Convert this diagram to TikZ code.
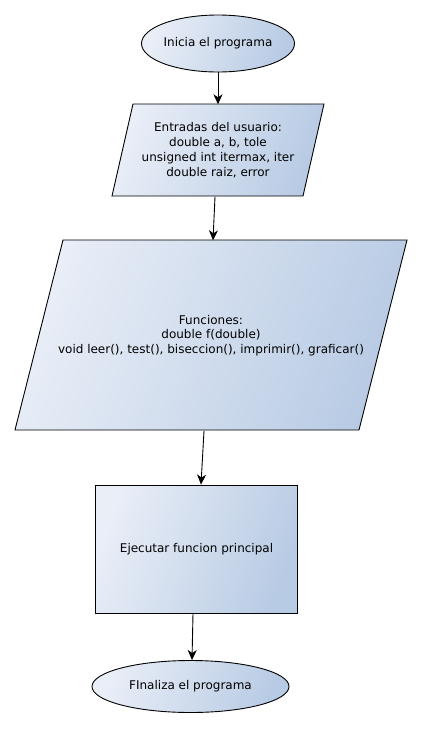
\documentclass[tikz,border=0pt]{standalone}
\usepackage{fontspec}
\setmainfont{DejaVu Sans}
\usetikzlibrary{shapes.geometric,arrows.meta}
\definecolor{fillA}{HTML}{E9EEF7}
\definecolor{fillB}{HTML}{B8CBE4}
\tikzset{
  grad/.style={left color=fillA, right color=fillB, shading angle=70},
  outl/.style={draw=black, line width=0.9pt},
  termbox/.style={ellipse, outl, grad, inner sep=0pt},
  lbl/.style={font=\fontsize{12}{15}\selectfont, align=center, inner sep=0pt},
  arr/.style={line width=0.9pt, -{Stealth[length=10pt,width=9pt,inset=3pt]}}
}
\begin{document}
\begin{tikzpicture}[x=1pt,y=-1pt]
\useasboundingbox (0,0) rectangle (422,729);
% start
\node[termbox, minimum width=153pt, minimum height=57pt] (start) at (218,43.5) {};
\node[lbl] (startl) at (start.center) {Inicia el programa};
% input parallelogram
\path[outl, grad] (133,104) -- (324,104) -- (303,196) -- (112,196) -- cycle;
\node[lbl, minimum width=191pt, minimum height=92pt] (inp) at (218,150.5)
  {Entradas del usuario:\\double a, b, tole\\unsigned int itermax, iter\\double raiz, error};
% functions parallelogram
\path[outl, grad] (63,240) -- (407,240) -- (359,430) -- (15,430) -- cycle;
\node[lbl, minimum width=344pt, minimum height=190pt, font=\fontsize{12}{14.3}\selectfont] (fun) at (211,335.5)
  {Funciones:\\double f(double)\\void leer(), test(), biseccion(), imprimir(), graficar()};
% process box
\node[outl, grad, minimum width=202.5pt, minimum height=128pt, inner sep=0pt] (proc) at (196.5,549) {};
\node[lbl] (procl) at (proc.center) {Ejecutar funcion principal};
% end
\node[termbox, minimum width=197pt, minimum height=52pt] (stop) at (190.5,686.5) {};
\node[lbl] (stopl) at (stop.center) {FInaliza el programa};
% connectors
\draw[arr] (start.south) -- (inp.north);
\draw[arr] ([xshift=-3pt]inp.south) -- ([xshift=2pt]fun.north);
\draw[arr] ([xshift=-7pt]fun.south) -- ([xshift=4.5pt]proc.north);
\draw[arr] ([xshift=-3.5pt]proc.south) -- ([xshift=1.5pt]stop.north);
\end{tikzpicture}
\end{document}
